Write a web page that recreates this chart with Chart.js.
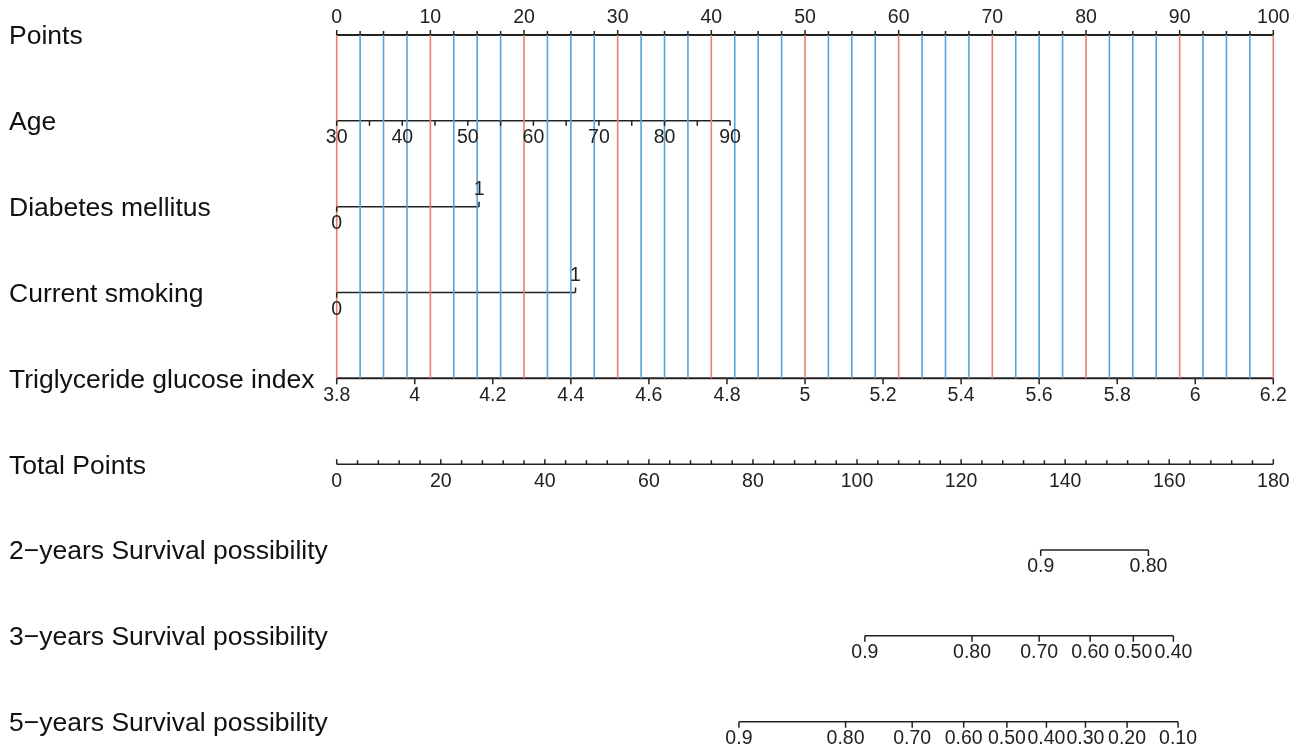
<!DOCTYPE html>
<html>
<head>
<meta charset="utf-8">
<title>Nomogram</title>
<script src="https://cdn.jsdelivr.net/npm/chart.js@4.4.1/dist/chart.umd.min.js"></script>
<style>
  html, body { margin: 0; padding: 0; background: #fff; }
  #wrap { width: 1303px; height: 751px; }
</style>
</head>
<body>
<div id="wrap"><canvas id="nomogram" width="1303" height="751"></canvas></div>
<script>
// Row titles (top to bottom)
const rowLabels = [
    "Points",
    "Age",
    "Diabetes mellitus",
    "Current smoking",
    "Triglyceride glucose index",
    "Total Points",
    "2\u2212years Survival possibility",
    "3\u2212years Survival possibility",
    "5\u2212years Survival possibility"
];

// Points scale 0-100
const pointTicks = [0, 10, 20, 30, 40, 50, 60, 70, 80, 90, 100];

// Age: 30 years -> 0 points, 90 years -> 42 points
const ageTicks = [30, 40, 50, 60, 70, 80, 90];
const ageMinor = [35, 45, 55, 65, 75, 85];
const ageRange = [30, 90];
const agePoints = [0, 42];

// Categorical predictors
const diabetesLevels = ["0", "1"];
const diabetesPoints = [0, 15.2];
const smokingLevels = ["0", "1"];
const smokingPoints = [0, 25.5];

// Triglyceride glucose index: 3.8 -> 0 points, 6.2 -> 100 points
const tgTicks = [3.8, 4.0, 4.2, 4.4, 4.6, 4.8, 5.0, 5.2, 5.4, 5.6, 5.8, 6.0, 6.2];
const tgLabels = ["3.8", "4", "4.2", "4.4", "4.6", "4.8", "5", "5.2", "5.4", "5.6", "5.8", "6", "6.2"];
const tgRange = [3.8, 6.2];
const tgPoints = [0, 100];

// Total points 0-180
const totalTicks = [0, 20, 40, 60, 80, 100, 120, 140, 160, 180];
const totalMax = 180;

// Survival probability scales (position given in total points)
const surv2Labels = ["0.9", "0.80"];
const surv2Total = [135.3, 156.0];
const surv3Labels = ["0.9", "0.80", "0.70", "0.60", "0.50", "0.40"];
const surv3Total = [101.5, 122.1, 135.0, 144.8, 153.1, 160.8];
const surv5Labels = ["0.9", "0.80", "0.70", "0.60", "0.50", "0.40", "0.30", "0.20", "0.10"];
const surv5Total = [77.3, 97.8, 110.6, 120.5, 128.8, 136.4, 143.9, 151.9, 161.7];

const RED = "#e8806c";
const BLUE = "#5aa2da";
const INK = "#222222";
const FONT = "'Liberation Sans', Arial, sans-serif";

function lin(v, d, r) {
    return r[0] + (v - d[0]) * (r[1] - r[0]) / (d[1] - d[0]);
}
const totalToPts = function (t) { return t * 100 / totalMax; };

// tick spec: side = tick direction (-1 up, 1 down), labelSide = where the text goes
function tickList(values, labels, toPts, side, len, labelSide) {
    return values.map(function (v, i) {
        return { pts: toPts(v), text: labels ? labels[i] : "", side: side, len: len,
                 labelSide: labelSide === undefined ? side : labelSide };
    });
}

let pointMinor = [];
for (let p = 2.5; p < 100; p += 2.5) {
    if (p % 10 !== 0) pointMinor.push(p);
}
let totalMinor = [];
for (let t = 4; t < totalMax; t += 4) {
    if (t % 20 !== 0) totalMinor.push(t);
}

const axes = [
    { row: 0, width: 2,
      ticks: tickList(pointTicks, pointTicks.map(String), p => p, -1, 5)
        .concat(tickList(pointMinor, null, p => p, -1, 4)) },
    { row: 1, width: 1.5,
      ticks: tickList(ageTicks, ageTicks.map(String), a => lin(a, ageRange, agePoints), 1, 5)
        .concat(tickList(ageMinor, null, a => lin(a, ageRange, agePoints), 1, 5)) },
    { row: 2, width: 1.5,
      ticks: [
          { pts: diabetesPoints[0], text: diabetesLevels[0], side: 1, len: 5, labelSide: 1 },
          { pts: diabetesPoints[1], text: diabetesLevels[1], side: -1, len: 5, labelSide: -1 }
      ] },
    { row: 3, width: 1.5,
      ticks: [
          { pts: smokingPoints[0], text: smokingLevels[0], side: 1, len: 5, labelSide: 1 },
          { pts: smokingPoints[1], text: smokingLevels[1], side: -1, len: 5, labelSide: -1 }
      ] },
    { row: 4, width: 2,
      ticks: tickList(tgTicks, tgLabels, t => lin(t, tgRange, tgPoints), 1, 6) },
    { row: 5, width: 1.5,
      ticks: tickList(totalTicks, totalTicks.map(String), totalToPts, -1, 5, 1)
        .concat(tickList(totalMinor, null, totalToPts, -1, 4)) },
    { row: 6, width: 1.5, ticks: tickList(surv2Total, surv2Labels, totalToPts, 1, 6) },
    { row: 7, width: 1.5, ticks: tickList(surv3Total, surv3Labels, totalToPts, 1, 6) },
    { row: 8, width: 1.5, ticks: tickList(surv5Total, surv5Labels, totalToPts, 1, 6) }
];

// vertical reference lines from Points row down to TG row
let redData = [], blueData = [];
pointTicks.forEach(function (p) {
    redData.push({ x: p, y: 0 }, { x: p, y: 4 }, { x: p, y: null });
});
pointMinor.forEach(function (p) {
    blueData.push({ x: p, y: 0 }, { x: p, y: 4 }, { x: p, y: null });
});

let datasets = [
    { data: blueData, borderColor: BLUE, borderWidth: 1.6 },
    { data: redData, borderColor: RED, borderWidth: 1.6 }
];
axes.forEach(function (ax) {
    let xs = ax.ticks.map(t => t.pts);
    datasets.push({
        data: [{ x: Math.min.apply(null, xs), y: ax.row }, { x: Math.max.apply(null, xs), y: ax.row }],
        borderColor: INK,
        borderWidth: ax.width
    });
});
datasets.forEach(function (ds) {
    ds.showLine = true;
    ds.pointRadius = 0;
    ds.spanGaps = false;
    ds.clip = false;
    ds.fill = false;
});

// ticks, tick labels and row titles
const nomogramPlugin = {
    id: "nomogramText",
    afterDatasetsDraw(chart) {
        const ctx = chart.ctx;
        const xs = chart.scales.x, ys = chart.scales.y;
        ctx.save();
        ctx.strokeStyle = INK;
        ctx.lineWidth = 1.5;
        ctx.fillStyle = INK;
        ctx.textAlign = "center";
        ctx.textBaseline = "middle";
        ctx.font = "19.5px " + FONT;
        axes.forEach(function (ax) {
            const y = ys.getPixelForValue(ax.row);
            ax.ticks.forEach(function (t) {
                const x = xs.getPixelForValue(t.pts);
                ctx.beginPath();
                ctx.moveTo(x, y);
                ctx.lineTo(x, y + t.side * t.len);
                ctx.stroke();
                if (t.text) {
                    ctx.fillText(t.text, x, y + t.labelSide * 17);
                }
            });
        });
        ctx.textAlign = "left";
        ctx.font = "26.5px " + FONT;
        ctx.fillStyle = "#111";
        rowLabels.forEach(function (lab, i) {
            ctx.fillText(lab, 9, ys.getPixelForValue(i) + 2);
        });
        ctx.restore();
    }
};

new Chart(document.getElementById("nomogram"), {
    type: "scatter",
    data: { datasets: datasets },
    options: {
        responsive: false,
        animation: false,
        layout: {
            autoPadding: false,
            padding: { left: 336.7, right: 29.7, top: 35, bottom: 29.3 }
        },
        scales: {
            x: { type: "linear", min: 0, max: 100, display: false },
            y: { type: "linear", min: 0, max: 8, reverse: true, display: false }
        },
        plugins: {
            legend: { display: false },
            tooltip: { enabled: false }
        }
    },
    plugins: [nomogramPlugin]
});
</script>
</body>
</html>
